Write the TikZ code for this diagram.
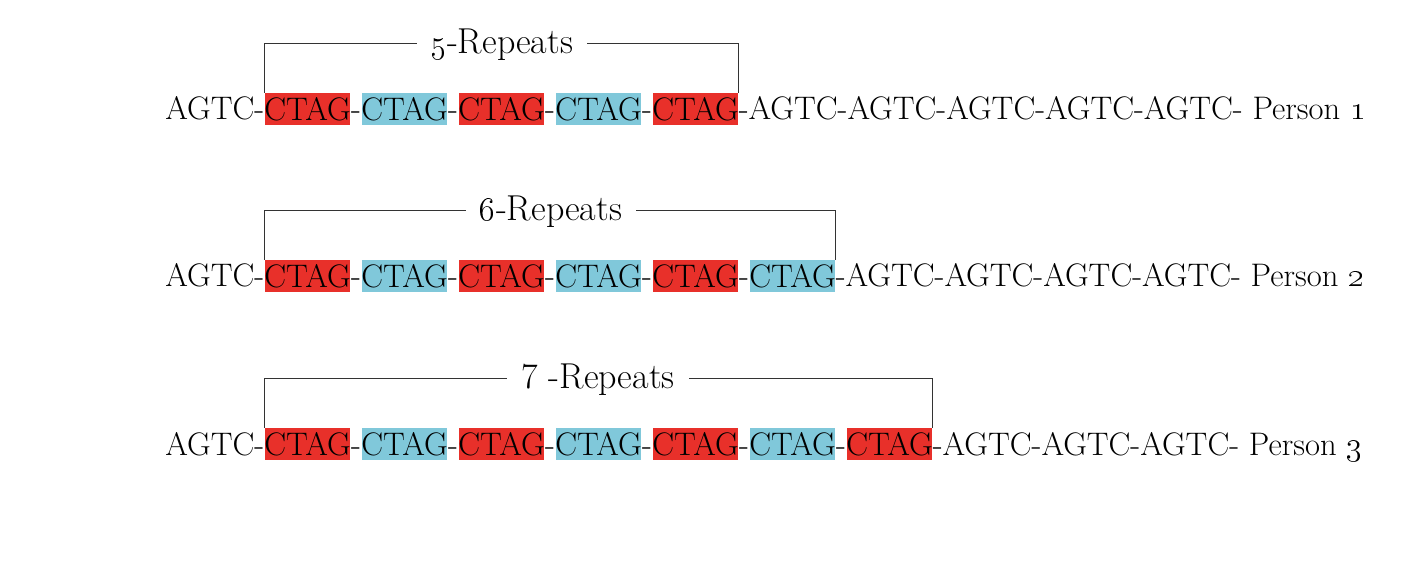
\documentclass[tikz,border=0pt]{standalone}
\usepackage{tikz}
\usepackage{xcolor}
\definecolor{repred}{RGB}{232,48,42}
\definecolor{repblue}{RGB}{128,200,218}
\tikzset{
  seq/.style={font=\fontsize{16.3pt}{19pt}\selectfont, inner sep=0pt},
  rep/.style={seq, minimum width=42.5pt, minimum height=16pt, fill=#1},
  bracket/.style={line width=0.7pt, black!80},
  replabel/.style={font=\fontsize{18pt}{21pt}\selectfont, fill=white, inner xsep=7pt, inner ysep=2pt}
}

\begin{document}
\begin{tikzpicture}[x=0.5pt,y=-0.5pt]
	\useasboundingbox (0,0) rectangle (1422,566);
	% one row per person
	\foreach \r/\n/\y/\labx/\lab/\tail in {
		1/5/109/502/{\oldstylenums{5}-Repeats}/{-AGTC-AGTC-AGTC-AGTC-AGTC- Person \oldstylenums{1}},
		2/6/276/551/{\oldstylenums{6}-Repeats}/{-AGTC-AGTC-AGTC-AGTC- Person \oldstylenums{2}},
		3/7/444/598/{7~-Repeats}/{-AGTC-AGTC-AGTC- Person \oldstylenums{3}}}{
		\foreach \k in {1,...,\n}{
			\ifodd\k \def\col{repred}\else\def\col{repblue}\fi
			\node[rep=\col] (box-\r-\k) at (210.5+97*\k,\y) {\makebox[42.5pt]{CTAG}};
		}
		\foreach \k in {2,...,\n}
			\node[seq, anchor=base] (link-\r-\k) at (162+97*\k,\y+11) {-};
		\node[seq, anchor=base east] (head-\r) at ([yshift=-5.5pt]box-\r-1.west) {AGTC-};
		\node[seq, anchor=base west] (tail-\r) at ([yshift=-5.5pt]box-\r-\n.east) {\tail};
		% bracket over the repeats
		\draw[bracket] (box-\r-1.north west) -- ++(0,-49) -| (box-\r-\n.north east);
		\node[replabel] (lab-\r) at (\labx,\y-64) {\lab};
	}
\end{tikzpicture}
\end{document}
